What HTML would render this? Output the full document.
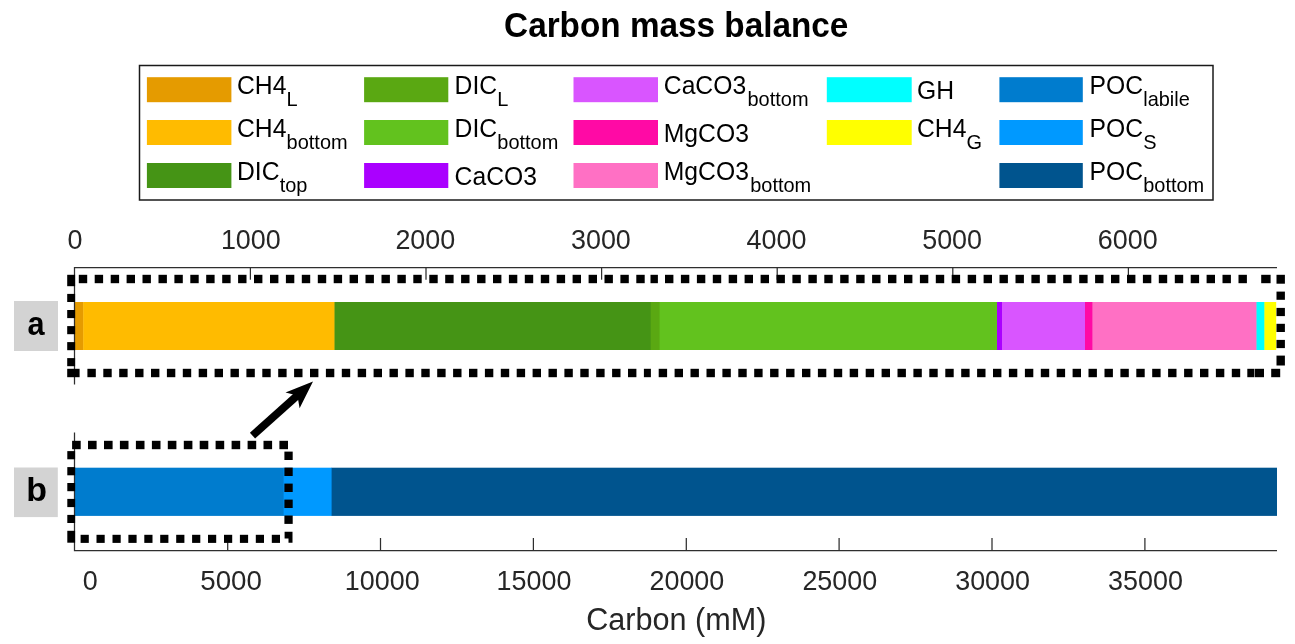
<!DOCTYPE html>
<html lang="en"><head><meta charset="utf-8"><title>Carbon mass balance</title>
<style>html,body{margin:0;padding:0;background:#fff;}svg{display:block;}text{font-family:"Liberation Sans", Arial, Helvetica, sans-serif;fill:#000;}.tk{font-size:26.6px;fill:#262626;}.lg{font-size:24.5px;}.sb{font-size:19.2px;}.dot rect{fill:#000;}</style></head><body>
<svg width="1295" height="644" viewBox="0 0 1295 644">
<rect x="0" y="0" width="1295" height="644" fill="#ffffff"/>
<text transform="translate(676.2 37.2) scale(1 1.04)" font-size="33.3" text-anchor="middle" font-weight="bold">Carbon mass balance</text>
<rect x="139.5" y="65.5" width="1073.5" height="134.5" fill="#fff" stroke="#1a1a1a" stroke-width="1.5"/>
<rect x="146.9" y="77.2" width="84.5" height="25" fill="#E59B00"/>
<text transform="translate(237.0 94.0) scale(1 1.04)" font-size="24.7">CH4</text>
<text transform="translate(286.6 106.4) scale(1.03 1.04)" font-size="19.4">L</text>
<rect x="146.9" y="120.0" width="84.5" height="25" fill="#FFBB00"/>
<text transform="translate(237.0 136.8) scale(1 1.04)" font-size="24.7">CH4</text>
<text transform="translate(286.6 149.2) scale(1.03 1.04)" font-size="19.4">bottom</text>
<rect x="146.9" y="163.0" width="84.5" height="25" fill="#459415"/>
<text transform="translate(237.0 179.8) scale(1 1.04)" font-size="24.7">DIC</text>
<text transform="translate(279.7 192.2) scale(1.03 1.04)" font-size="19.4">top</text>
<rect x="364.1" y="77.2" width="84.2" height="25" fill="#5AA812"/>
<text transform="translate(454.6 94.0) scale(1 1.04)" font-size="24.7">DIC</text>
<text transform="translate(497.3 106.4) scale(1.03 1.04)" font-size="19.4">L</text>
<rect x="364.1" y="120.0" width="84.2" height="25" fill="#62C21E"/>
<text transform="translate(454.6 136.8) scale(1 1.04)" font-size="24.7">DIC</text>
<text transform="translate(497.3 149.2) scale(1.03 1.04)" font-size="19.4">bottom</text>
<rect x="364.1" y="163.0" width="84.2" height="25" fill="#AA00FF"/>
<text transform="translate(454.6 185.2) scale(1 1.04)" font-size="24.7">CaCO3</text>
<rect x="573.5" y="77.2" width="84.5" height="25" fill="#D955FF"/>
<text transform="translate(663.8 94.0) scale(1 1.04)" font-size="24.7">CaCO3</text>
<text transform="translate(747.5 106.4) scale(1.03 1.04)" font-size="19.4">bottom</text>
<rect x="573.5" y="120.0" width="84.5" height="25" fill="#FF0AA5"/>
<text transform="translate(663.8 142.2) scale(1 1.04)" font-size="24.7">MgCO3</text>
<rect x="573.5" y="163.0" width="84.5" height="25" fill="#FF70C4"/>
<text transform="translate(663.8 179.8) scale(1 1.04)" font-size="24.7">MgCO3</text>
<text transform="translate(750.2 192.2) scale(1.03 1.04)" font-size="19.4">bottom</text>
<rect x="826.8" y="77.2" width="84.9" height="25" fill="#00FFFF"/>
<text transform="translate(917.0 99.3) scale(1 1.04)" font-size="24.7">GH</text>
<rect x="826.8" y="120.0" width="84.9" height="25" fill="#FFFF00"/>
<text transform="translate(917.0 136.8) scale(1 1.04)" font-size="24.7">CH4</text>
<text transform="translate(966.6 149.2) scale(1.03 1.04)" font-size="19.4">G</text>
<rect x="999.4" y="77.2" width="83.4" height="25" fill="#007CCE"/>
<text transform="translate(1089.5 94.0) scale(1 1.04)" font-size="24.7">POC</text>
<text transform="translate(1143.2 106.4) scale(1.03 1.04)" font-size="19.4">labile</text>
<rect x="999.4" y="120.0" width="83.4" height="25" fill="#0099FF"/>
<text transform="translate(1089.5 136.8) scale(1 1.04)" font-size="24.7">POC</text>
<text transform="translate(1143.2 149.2) scale(1.03 1.04)" font-size="19.4">S</text>
<rect x="999.4" y="163.0" width="83.4" height="25" fill="#00548E"/>
<text transform="translate(1089.5 179.8) scale(1 1.04)" font-size="24.7">POC</text>
<text transform="translate(1143.2 192.2) scale(1.03 1.04)" font-size="19.4">bottom</text>
<rect x="14" y="301" width="44" height="50" fill="#d3d3d3"/>
<text transform="translate(36.0 335.0) scale(0.93 1)" font-size="33" text-anchor="middle" font-weight="bold">a</text>
<rect x="14" y="467.5" width="43.8" height="49.6" fill="#d3d3d3"/>
<text transform="translate(36.6 501.2) scale(1.03 1)" font-size="33" text-anchor="middle" font-weight="bold">b</text>
<rect x="75.0" y="302" width="8.6" height="48" fill="#E59B00"/>
<rect x="83.2" y="302" width="251.7" height="48" fill="#FFBB00"/>
<rect x="334.5" y="302" width="316.6" height="48" fill="#459415"/>
<rect x="650.7" y="302" width="9.3" height="48" fill="#5AA812"/>
<rect x="659.6" y="302" width="337.8" height="48" fill="#62C21E"/>
<rect x="997.0" y="302" width="5.4" height="48" fill="#AA00FF"/>
<rect x="1002.0" y="302" width="83.4" height="48" fill="#D955FF"/>
<rect x="1085.0" y="302" width="7.9" height="48" fill="#FF0AA5"/>
<rect x="1092.5" y="302" width="164.4" height="48" fill="#FF70C4"/>
<rect x="1256.5" y="302" width="8.3" height="48" fill="#00FFFF"/>
<rect x="1264.4" y="302" width="11.8" height="48" fill="#FFFF00"/>
<rect x="75.0" y="467.7" width="209.0" height="48.2" fill="#007CCE"/>
<rect x="283.6" y="467.7" width="48.4" height="48.2" fill="#0099FF"/>
<rect x="331.6" y="467.7" width="945.4" height="48.2" fill="#00548E"/>
<path d="M74.5 384.5V267.5H1277" fill="none" stroke="#2e2e2e" stroke-width="1.25"/>
<text transform="translate(75.0 249.4) scale(1 1.04)" font-size="26.9" text-anchor="middle" style="fill:#262626">0</text>
<path d="M250.4 267.5V279.7" stroke="#2e2e2e" stroke-width="1.25"/>
<text transform="translate(250.8 249.4) scale(1 1.04)" font-size="26.9" text-anchor="middle" style="fill:#262626">1000</text>
<path d="M426.0 267.5V279.7" stroke="#2e2e2e" stroke-width="1.25"/>
<text transform="translate(425.3 249.4) scale(1 1.04)" font-size="26.9" text-anchor="middle" style="fill:#262626">2000</text>
<path d="M601.6 267.5V279.7" stroke="#2e2e2e" stroke-width="1.25"/>
<text transform="translate(600.9 249.4) scale(1 1.04)" font-size="26.9" text-anchor="middle" style="fill:#262626">3000</text>
<path d="M777.2 267.5V279.7" stroke="#2e2e2e" stroke-width="1.25"/>
<text transform="translate(776.5 249.4) scale(1 1.04)" font-size="26.9" text-anchor="middle" style="fill:#262626">4000</text>
<path d="M952.8 267.5V279.7" stroke="#2e2e2e" stroke-width="1.25"/>
<text transform="translate(952.1 249.4) scale(1 1.04)" font-size="26.9" text-anchor="middle" style="fill:#262626">5000</text>
<path d="M1128.4 267.5V279.7" stroke="#2e2e2e" stroke-width="1.25"/>
<text transform="translate(1127.7 249.4) scale(1 1.04)" font-size="26.9" text-anchor="middle" style="fill:#262626">6000</text>
<path d="M74.5 432.5V550.5H1277" fill="none" stroke="#2e2e2e" stroke-width="1.25"/>
<text transform="translate(90.1 590.4) scale(1 1.04)" font-size="26.9" text-anchor="middle" style="fill:#262626">0</text>
<path d="M227.7 550.5V538" stroke="#2e2e2e" stroke-width="1.25"/>
<text transform="translate(231.1 590.4) scale(1.03 1.04)" font-size="26.9" text-anchor="middle" style="fill:#262626">5000</text>
<path d="M380.5 550.5V538" stroke="#2e2e2e" stroke-width="1.25"/>
<text transform="translate(382.2 590.4) scale(1 1.04)" font-size="26.9" text-anchor="middle" style="fill:#262626">10000</text>
<path d="M533.4 550.5V538" stroke="#2e2e2e" stroke-width="1.25"/>
<text transform="translate(534.0 590.4) scale(1 1.04)" font-size="26.9" text-anchor="middle" style="fill:#262626">15000</text>
<path d="M686.3 550.5V538" stroke="#2e2e2e" stroke-width="1.25"/>
<text transform="translate(686.9 590.4) scale(1 1.04)" font-size="26.9" text-anchor="middle" style="fill:#262626">20000</text>
<path d="M839.1 550.5V538" stroke="#2e2e2e" stroke-width="1.25"/>
<text transform="translate(839.8 590.4) scale(1 1.04)" font-size="26.9" text-anchor="middle" style="fill:#262626">25000</text>
<path d="M992.0 550.5V538" stroke="#2e2e2e" stroke-width="1.25"/>
<text transform="translate(992.6 590.4) scale(1 1.04)" font-size="26.9" text-anchor="middle" style="fill:#262626">30000</text>
<path d="M1144.9 550.5V538" stroke="#2e2e2e" stroke-width="1.25"/>
<text transform="translate(1145.5 590.4) scale(1 1.04)" font-size="26.9" text-anchor="middle" style="fill:#262626">35000</text>
<text transform="translate(676.3 630.0) scale(1 1.04)" font-size="30.6" text-anchor="middle" style="fill:#262626">Carbon (mM)</text>
<g class="dot">
<rect x="78.8" y="274.8" width="8.4" height="8.4"/>
<rect x="94.7" y="274.8" width="8.4" height="8.4"/>
<rect x="110.7" y="274.8" width="8.4" height="8.4"/>
<rect x="126.6" y="274.8" width="8.4" height="8.4"/>
<rect x="142.5" y="274.8" width="8.4" height="8.4"/>
<rect x="158.5" y="274.8" width="8.4" height="8.4"/>
<rect x="174.4" y="274.8" width="8.4" height="8.4"/>
<rect x="190.3" y="274.8" width="8.4" height="8.4"/>
<rect x="206.2" y="274.8" width="8.4" height="8.4"/>
<rect x="222.2" y="274.8" width="8.4" height="8.4"/>
<rect x="238.1" y="274.8" width="8.4" height="8.4"/>
<rect x="254.0" y="274.8" width="8.4" height="8.4"/>
<rect x="270.0" y="274.8" width="8.4" height="8.4"/>
<rect x="285.9" y="274.8" width="8.4" height="8.4"/>
<rect x="301.8" y="274.8" width="8.4" height="8.4"/>
<rect x="317.8" y="274.8" width="8.4" height="8.4"/>
<rect x="333.7" y="274.8" width="8.4" height="8.4"/>
<rect x="349.6" y="274.8" width="8.4" height="8.4"/>
<rect x="365.5" y="274.8" width="8.4" height="8.4"/>
<rect x="381.5" y="274.8" width="8.4" height="8.4"/>
<rect x="397.4" y="274.8" width="8.4" height="8.4"/>
<rect x="413.3" y="274.8" width="8.4" height="8.4"/>
<rect x="429.3" y="274.8" width="8.4" height="8.4"/>
<rect x="445.2" y="274.8" width="8.4" height="8.4"/>
<rect x="461.1" y="274.8" width="8.4" height="8.4"/>
<rect x="477.1" y="274.8" width="8.4" height="8.4"/>
<rect x="493.0" y="274.8" width="8.4" height="8.4"/>
<rect x="508.9" y="274.8" width="8.4" height="8.4"/>
<rect x="524.8" y="274.8" width="8.4" height="8.4"/>
<rect x="540.8" y="274.8" width="8.4" height="8.4"/>
<rect x="556.7" y="274.8" width="8.4" height="8.4"/>
<rect x="572.6" y="274.8" width="8.4" height="8.4"/>
<rect x="588.6" y="274.8" width="8.4" height="8.4"/>
<rect x="604.5" y="274.8" width="8.4" height="8.4"/>
<rect x="620.4" y="274.8" width="8.4" height="8.4"/>
<rect x="636.3" y="274.8" width="8.4" height="8.4"/>
<rect x="650.5" y="274.8" width="7.4" height="8.4"/>
<rect x="665.0" y="274.8" width="8.4" height="8.4"/>
<rect x="680.9" y="274.8" width="8.4" height="8.4"/>
<rect x="696.9" y="274.8" width="8.4" height="8.4"/>
<rect x="712.8" y="274.8" width="8.4" height="8.4"/>
<rect x="728.7" y="274.8" width="8.4" height="8.4"/>
<rect x="744.6" y="274.8" width="8.4" height="8.4"/>
<rect x="760.6" y="274.8" width="8.4" height="8.4"/>
<rect x="776.5" y="274.8" width="8.4" height="8.4"/>
<rect x="792.4" y="274.8" width="8.4" height="8.4"/>
<rect x="808.4" y="274.8" width="8.4" height="8.4"/>
<rect x="824.3" y="274.8" width="8.4" height="8.4"/>
<rect x="840.2" y="274.8" width="8.4" height="8.4"/>
<rect x="856.2" y="274.8" width="8.4" height="8.4"/>
<rect x="872.1" y="274.8" width="8.4" height="8.4"/>
<rect x="888.0" y="274.8" width="8.4" height="8.4"/>
<rect x="904.0" y="274.8" width="8.4" height="8.4"/>
<rect x="919.9" y="274.8" width="8.4" height="8.4"/>
<rect x="935.8" y="274.8" width="8.4" height="8.4"/>
<rect x="951.7" y="274.8" width="8.4" height="8.4"/>
<rect x="967.7" y="274.8" width="8.4" height="8.4"/>
<rect x="983.6" y="274.8" width="8.4" height="8.4"/>
<rect x="999.5" y="274.8" width="8.4" height="8.4"/>
<rect x="1015.5" y="274.8" width="8.4" height="8.4"/>
<rect x="1031.4" y="274.8" width="8.4" height="8.4"/>
<rect x="1047.3" y="274.8" width="8.4" height="8.4"/>
<rect x="1063.2" y="274.8" width="8.4" height="8.4"/>
<rect x="1079.2" y="274.8" width="8.4" height="8.4"/>
<rect x="1095.1" y="274.8" width="8.4" height="8.4"/>
<rect x="1111.0" y="274.8" width="8.4" height="8.4"/>
<rect x="1127.0" y="274.8" width="8.4" height="8.4"/>
<rect x="1142.9" y="274.8" width="8.4" height="8.4"/>
<rect x="1158.8" y="274.8" width="8.4" height="8.4"/>
<rect x="1174.8" y="274.8" width="8.4" height="8.4"/>
<rect x="1190.7" y="274.8" width="8.4" height="8.4"/>
<rect x="1206.6" y="274.8" width="8.4" height="8.4"/>
<rect x="1222.5" y="274.8" width="8.4" height="8.4"/>
<rect x="1238.5" y="274.8" width="8.4" height="8.4"/>
<rect x="1261.2" y="274.8" width="9.4" height="8.4"/>
<rect x="1276.5" y="274.8" width="8.4" height="8.9"/>
<rect x="67.2" y="274.8" width="7.9" height="11.4"/>
<rect x="67.2" y="293.9" width="7.9" height="8.1"/>
<rect x="67.2" y="310.0" width="7.9" height="8.1"/>
<rect x="67.2" y="326.1" width="7.9" height="8.1"/>
<rect x="67.2" y="342.1" width="7.9" height="8.1"/>
<rect x="67.2" y="358.1" width="7.9" height="8.1"/>
<rect x="67.2" y="368.8" width="12.4" height="8.4"/>
<rect x="87.4" y="368.8" width="8.4" height="8.4"/>
<rect x="103.3" y="368.8" width="8.4" height="8.4"/>
<rect x="119.2" y="368.8" width="8.4" height="8.4"/>
<rect x="135.1" y="368.8" width="8.4" height="8.4"/>
<rect x="151.0" y="368.8" width="8.4" height="8.4"/>
<rect x="166.9" y="368.8" width="8.4" height="8.4"/>
<rect x="182.8" y="368.8" width="8.4" height="8.4"/>
<rect x="198.7" y="368.8" width="8.4" height="8.4"/>
<rect x="214.6" y="368.8" width="8.4" height="8.4"/>
<rect x="230.5" y="368.8" width="8.4" height="8.4"/>
<rect x="246.4" y="368.8" width="8.4" height="8.4"/>
<rect x="262.3" y="368.8" width="8.4" height="8.4"/>
<rect x="278.2" y="368.8" width="8.4" height="8.4"/>
<rect x="294.1" y="368.8" width="8.4" height="8.4"/>
<rect x="310.0" y="368.8" width="8.4" height="8.4"/>
<rect x="325.9" y="368.8" width="8.4" height="8.4"/>
<rect x="341.8" y="368.8" width="8.4" height="8.4"/>
<rect x="357.7" y="368.8" width="8.4" height="8.4"/>
<rect x="373.6" y="368.8" width="8.4" height="8.4"/>
<rect x="389.5" y="368.8" width="8.4" height="8.4"/>
<rect x="405.4" y="368.8" width="8.4" height="8.4"/>
<rect x="421.3" y="368.8" width="8.4" height="8.4"/>
<rect x="437.2" y="368.8" width="8.4" height="8.4"/>
<rect x="453.1" y="368.8" width="8.4" height="8.4"/>
<rect x="469.0" y="368.8" width="8.4" height="8.4"/>
<rect x="484.9" y="368.8" width="8.4" height="8.4"/>
<rect x="500.8" y="368.8" width="8.4" height="8.4"/>
<rect x="516.7" y="368.8" width="8.4" height="8.4"/>
<rect x="532.6" y="368.8" width="8.4" height="8.4"/>
<rect x="548.5" y="368.8" width="8.4" height="8.4"/>
<rect x="564.4" y="368.8" width="8.4" height="8.4"/>
<rect x="580.3" y="368.8" width="8.4" height="8.4"/>
<rect x="596.2" y="368.8" width="8.4" height="8.4"/>
<rect x="612.1" y="368.8" width="8.4" height="8.4"/>
<rect x="628.0" y="368.8" width="8.4" height="8.4"/>
<rect x="643.9" y="368.8" width="7.0" height="8.4"/>
<rect x="658.7" y="368.8" width="8.4" height="8.4"/>
<rect x="674.6" y="368.8" width="8.4" height="8.4"/>
<rect x="690.5" y="368.8" width="8.4" height="8.4"/>
<rect x="706.5" y="368.8" width="8.4" height="8.4"/>
<rect x="722.4" y="368.8" width="8.4" height="8.4"/>
<rect x="738.3" y="368.8" width="8.4" height="8.4"/>
<rect x="754.2" y="368.8" width="8.4" height="8.4"/>
<rect x="770.1" y="368.8" width="8.4" height="8.4"/>
<rect x="786.1" y="368.8" width="8.4" height="8.4"/>
<rect x="802.0" y="368.8" width="8.4" height="8.4"/>
<rect x="817.9" y="368.8" width="8.4" height="8.4"/>
<rect x="833.8" y="368.8" width="8.4" height="8.4"/>
<rect x="849.7" y="368.8" width="8.4" height="8.4"/>
<rect x="865.7" y="368.8" width="8.4" height="8.4"/>
<rect x="881.6" y="368.8" width="8.4" height="8.4"/>
<rect x="897.5" y="368.8" width="8.4" height="8.4"/>
<rect x="913.4" y="368.8" width="8.4" height="8.4"/>
<rect x="929.3" y="368.8" width="8.4" height="8.4"/>
<rect x="945.3" y="368.8" width="8.4" height="8.4"/>
<rect x="961.2" y="368.8" width="8.4" height="8.4"/>
<rect x="977.1" y="368.8" width="8.4" height="8.4"/>
<rect x="993.0" y="368.8" width="8.4" height="8.4"/>
<rect x="1008.9" y="368.8" width="8.4" height="8.4"/>
<rect x="1024.9" y="368.8" width="8.4" height="8.4"/>
<rect x="1040.8" y="368.8" width="8.4" height="8.4"/>
<rect x="1056.7" y="368.8" width="8.4" height="8.4"/>
<rect x="1072.6" y="368.8" width="8.4" height="8.4"/>
<rect x="1088.5" y="368.8" width="8.4" height="8.4"/>
<rect x="1104.5" y="368.8" width="8.4" height="8.4"/>
<rect x="1120.4" y="368.8" width="8.4" height="8.4"/>
<rect x="1136.3" y="368.8" width="8.4" height="8.4"/>
<rect x="1152.2" y="368.8" width="8.4" height="8.4"/>
<rect x="1168.1" y="368.8" width="8.4" height="8.4"/>
<rect x="1184.1" y="368.8" width="8.4" height="8.4"/>
<rect x="1200.0" y="368.8" width="8.4" height="8.4"/>
<rect x="1215.9" y="368.8" width="8.4" height="8.4"/>
<rect x="1231.8" y="368.8" width="8.4" height="8.4"/>
<rect x="1247.3" y="368.8" width="6.9" height="8.4"/>
<rect x="1254.7" y="368.8" width="9.3" height="8.4"/>
<rect x="1271.2" y="368.8" width="9.0" height="8.4"/>
<rect x="1276.5" y="291.6" width="8.4" height="8.2"/>
<rect x="1276.5" y="307.9" width="8.4" height="8.2"/>
<rect x="1276.5" y="323.8" width="8.4" height="8.2"/>
<rect x="1276.5" y="339.9" width="8.4" height="8.2"/>
<rect x="1276.5" y="355.6" width="8.4" height="9.9"/>
<rect x="72.1" y="440.8" width="8.6" height="8.4"/>
<rect x="88.0" y="440.8" width="8.6" height="8.4"/>
<rect x="104.0" y="440.8" width="8.6" height="8.4"/>
<rect x="119.9" y="440.8" width="8.6" height="8.4"/>
<rect x="135.9" y="440.8" width="8.6" height="8.4"/>
<rect x="151.9" y="440.8" width="8.6" height="8.4"/>
<rect x="167.8" y="440.8" width="8.6" height="8.4"/>
<rect x="183.8" y="440.8" width="8.6" height="8.4"/>
<rect x="199.7" y="440.8" width="8.6" height="8.4"/>
<rect x="215.6" y="440.8" width="8.6" height="8.4"/>
<rect x="231.6" y="440.8" width="8.6" height="8.4"/>
<rect x="247.6" y="440.8" width="8.6" height="8.4"/>
<rect x="263.5" y="440.8" width="8.6" height="8.4"/>
<rect x="279.4" y="440.8" width="8.6" height="8.4"/>
<rect x="67.3" y="451.1" width="7.8" height="8.2"/>
<rect x="67.3" y="467.1" width="7.8" height="8.2"/>
<rect x="67.3" y="483.0" width="7.8" height="8.2"/>
<rect x="67.3" y="498.9" width="7.8" height="8.2"/>
<rect x="67.3" y="514.9" width="7.8" height="8.1"/>
<rect x="67.3" y="530.8" width="7.8" height="11.9"/>
<rect x="80.6" y="534.8" width="8.2" height="8.1"/>
<rect x="96.5" y="534.8" width="8.2" height="8.1"/>
<rect x="112.5" y="534.8" width="8.2" height="8.1"/>
<rect x="128.4" y="534.8" width="8.2" height="8.1"/>
<rect x="144.3" y="534.8" width="8.2" height="8.1"/>
<rect x="160.2" y="534.8" width="8.2" height="8.1"/>
<rect x="176.2" y="534.8" width="8.2" height="8.1"/>
<rect x="192.1" y="534.8" width="8.2" height="8.1"/>
<rect x="208.0" y="534.8" width="8.2" height="8.1"/>
<rect x="224.0" y="534.8" width="8.2" height="8.1"/>
<rect x="239.9" y="534.8" width="8.2" height="8.1"/>
<rect x="255.8" y="534.8" width="8.2" height="8.1"/>
<rect x="271.8" y="534.8" width="8.2" height="8.1"/>
<rect x="284.4" y="451.6" width="8.3" height="8.4"/>
<rect x="284.4" y="467.6" width="8.3" height="8.4"/>
<rect x="284.4" y="483.6" width="8.3" height="8.4"/>
<rect x="284.4" y="499.6" width="8.3" height="8.4"/>
<rect x="284.4" y="515.5" width="8.3" height="8.4"/>
<path d="M284.6 531.8H292.5V542.7H288.5V538.5H284.6Z" fill="#000"/>
</g>
<polygon points="255.1,438.5 249.9,432.7 296.2,391.2 301.5,397.0" fill="#000"/>
<polygon points="313.0,381.4 285.5,392.4 297.4,395.4 299.6,408.3" fill="#000"/>
</svg></body></html>
